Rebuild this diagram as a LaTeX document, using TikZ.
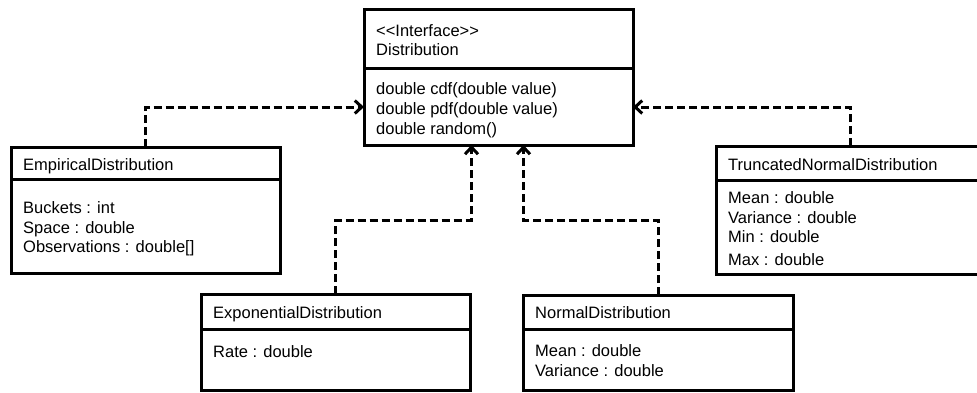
\documentclass[tikz,border=0pt]{standalone}
\usepackage{fontspec}
\newfontfamily\umlfont{Liberation Sans}
\usetikzlibrary{arrows.meta,calc}

\begin{document}
\begin{tikzpicture}[x=1pt,y=-1pt,
  cls/.style={draw, line width=3pt, inner sep=0pt, outer sep=0pt, minimum width=269pt, anchor=north west},
  txt/.style={anchor=base west, inner sep=0pt, font=\umlfont\fontsize{16.5}{20}\selectfont},
  sep/.style={line width=3pt},
  dep/.style={line width=3pt, dash pattern=on 8pt off 4pt,
    -{Straight Barb[length=7pt,width=13pt,line width=3pt]}}]
\clip (0,0) rectangle (977,392);
\fill[white] (0,0) rectangle (977,392);

% interface
\node[cls, minimum height=136pt] (dist) at (364,9) {};
\draw[sep] ($(dist.north west)+(0,59)$) -- ($(dist.north east)+(0,59)$);
\node[txt] (distS) at (376,36) {<<Interface>>};
\node[txt] (distN) at (376,55) {Distribution};
\node[txt] (distM1) at (376,94) {double cdf(double value)};
\node[txt] (distM2) at (376,114) {double pdf(double value)};
\node[txt] (distM3) at (376,134) {double random()};

% EmpiricalDistribution
\node[cls, minimum height=126pt] (emp) at (11,147) {};
\draw[sep] ($(emp.north west)+(0,32)$) -- ($(emp.north east)+(0,32)$);
\node[txt] (empN) at (23,170) {EmpiricalDistribution};
\node[txt] (empA1) at (23,213) {Buckets : int};
\node[txt] (empA2) at (23,233) {Space : double};
\node[txt] (empA3) at (23,252.5) {Observations : double[]};

% TruncatedNormalDistribution
\node[cls, minimum width=268pt, minimum height=128pt] (trunc) at (716,146) {};
\draw[sep] ($(trunc.north west)+(0,34)$) -- ($(trunc.north east)+(0,34)$);
\node[txt] (truncN) at (728,170) {TruncatedNormalDistribution};
\node[txt] (truncA1) at (728,203) {Mean : double};
\node[txt] (truncA2) at (728,223) {Variance : double};
\node[txt] (truncA3) at (728,242.5) {Min : double};
\node[txt] (truncA4) at (728,265) {Max : double};

% ExponentialDistribution
\node[cls, minimum height=96pt] (exp) at (201,294) {};
\draw[sep] ($(exp.north west)+(0,35)$) -- ($(exp.north east)+(0,35)$);
\node[txt] (expN) at (213,318) {ExponentialDistribution};
\node[txt] (expA1) at (213,357) {Rate : double};

% NormalDistribution
\node[cls, minimum width=270pt, minimum height=95pt] (norm) at (523,295) {};
\draw[sep] ($(norm.north west)+(0,34)$) -- ($(norm.north east)+(0,34)$);
\node[txt] (normN) at (535,318) {NormalDistribution};
\node[txt] (normA1) at (535,356.5) {Mean : double};
\node[txt] (normA2) at (535,376.5) {Variance : double};

% realization links
\draw[dep] (emp.north) |- ($(dist.west)+(0,30)$);
\draw[dep] (trunc.north) |- ($(dist.east)+(0,30)$);
\draw[dep] (exp.north) |- ($(dist.south)+(-27,75)$) -- ($(dist.south)+(-27,0)$);
\draw[dep] (norm.north) |- ($(dist.south)+(25,75)$) -- ($(dist.south)+(25,0)$);
\end{tikzpicture}
\end{document}
